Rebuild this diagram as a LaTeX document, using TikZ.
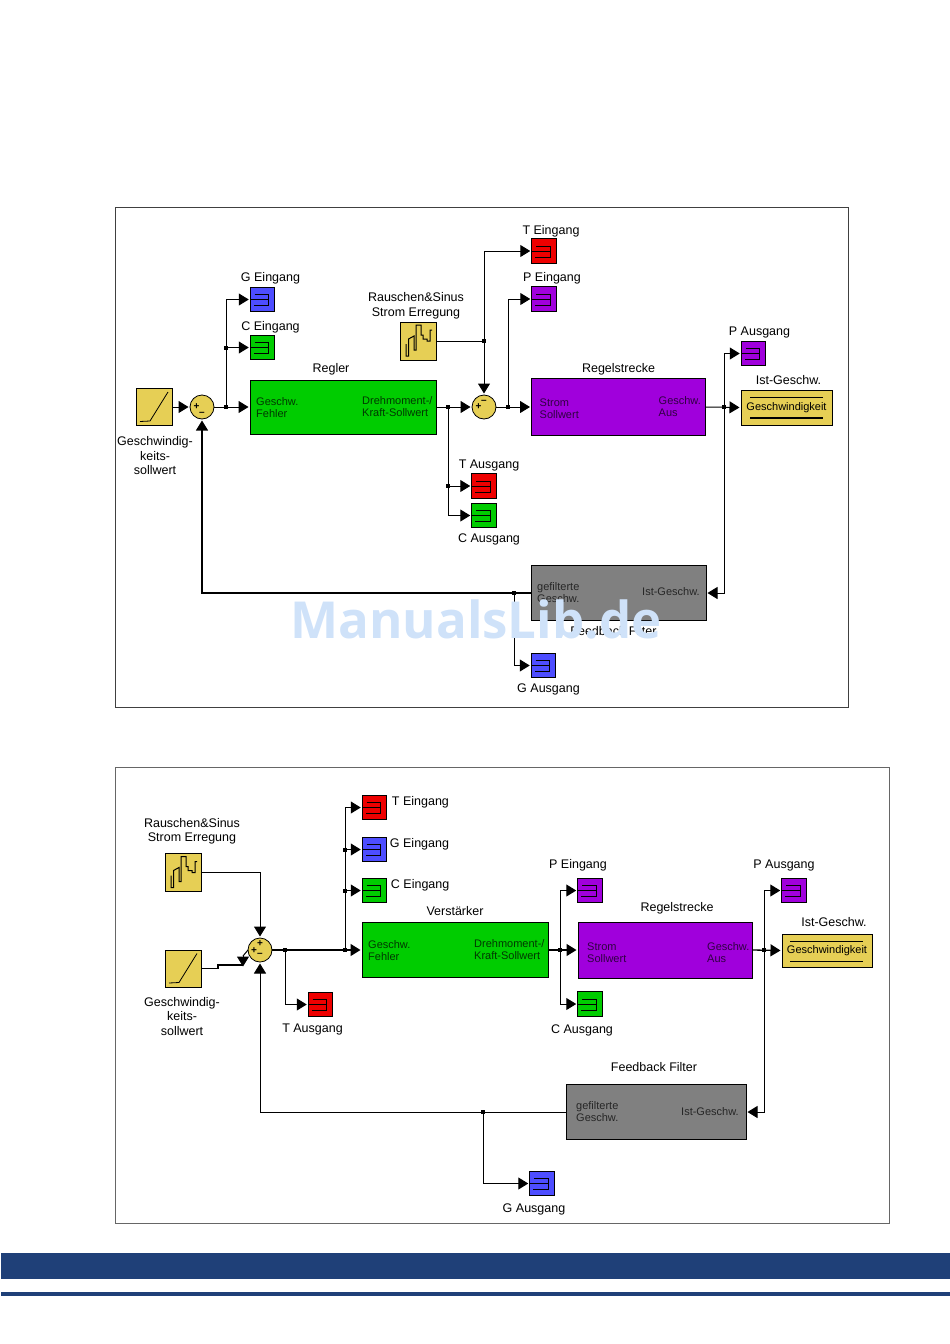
\documentclass[tikz,border=0pt]{standalone}
\usepackage{fontspec}
\setmainfont{Liberation Sans}
\newfontfamily\markfont{Open Sans}
\usetikzlibrary{arrows.meta,positioning,calc}
\definecolor{blkred}{HTML}{EE0000}
\definecolor{blkblue}{HTML}{4D4DFF}
\definecolor{blkgreen}{HTML}{00CC00}
\definecolor{blkpurple}{HTML}{A000DC}
\definecolor{blkgrey}{HTML}{808080}
\definecolor{blkyellow}{HTML}{E6CF55}
\definecolor{barnavy}{HTML}{1F4078}
\definecolor{markblue}{HTML}{CFE2F9}
\tikzset{
  % Blocks with text inside
  ctrlbox/.style={draw, rectangle, line width=1pt, inner sep=0pt, outer sep=0pt},
  % Small output port: box with bracket symbol
  portbox/.style={ctrlbox, minimum size=24.5pt, line width=1pt, fill=#1,
    path picture={\draw[line width=1pt, shift={(path picture bounding box.center)}]
      (-8,-5) -- (6,-5) -- (6,6) -- (-9,6) (-12,0) -- (6,0);}},
  % Source blocks: ramp and noise signal
  rampbox/.style={ctrlbox, fill=blkyellow, minimum width=36pt, minimum height=37pt,
    path picture={\draw[line width=0.8pt, shift={(path picture bounding box.center)}]
      (-14,14.5) -- (-4,14) -- (14,-15);}},
  noisebox/.style={ctrlbox, fill=blkyellow, minimum width=36pt, minimum height=38pt,
    path picture={\draw[line width=1pt, shift={(path picture bounding box.center)}]
      (-12,3) -- (-12,15) -- (-9.5,15) -- (-9.5,-2) -- (-4,-5) -- (-4,9) -- (-2,9)
      -- (-2,-16) -- (3,-16) -- (3,-6) -- (5,-6) -- (5,-2) -- (9,-2) -- (9,0)
      -- (12,0) -- (12,-11) -- (14,-11);}},
  % Display block with bars above and below the text
  dispbox/.style={ctrlbox, fill=blkyellow, minimum width=91pt, minimum height=35pt,
    font=\fontsize{11}{12}\selectfont},
  dispbar/.style={line width=0.9pt},
  dispbar-thick/.style={line width=1.4pt},
  sumnode/.style={draw, circle, fill=blkyellow, minimum size=24pt, inner sep=0pt,
    outer sep=0pt, line width=0.8pt},
  signtxt/.style={font=\fontsize{10}{10}\selectfont\bfseries, inner sep=0pt},
  juncdot/.style={fill=black, rectangle, minimum size=4pt, inner sep=0pt},
  % Texts
  caplabel/.style={font=\fontsize{12.5}{14.5}\selectfont, align=center, inner sep=0pt},
  intext/.style={font=\fontsize{11}{12}\selectfont, align=left, inner sep=0pt, anchor=west},
  % Connectors
  sigline/.style={line width=1pt},
  sigarr/.style={sigline, -{Triangle[length=10pt,width=12pt]}, shorten >=1.5pt}
}
\begin{document}
\begin{tikzpicture}[x=1pt,y=-1pt]
\useasboundingbox (0,0) rectangle (950,1344);

% ============== Frames and footer bars ==============
\draw[line width=0.8pt, black!75] (115.5,207) rectangle (848,707.5);
\draw[line width=0.9pt, black!60] (115.5,767.5) rectangle (889.5,1223.5);
\fill[barnavy] (1,1253) rectangle (950,1279);
\fill[barnavy] (1,1292) rectangle (950,1296);

% ============== Top diagram: blocks ==============
\node[rampbox] (rampA) at (154,407) {};
\node[sumnode] (sumA) at (202,407) {};
\node[ctrlbox, fill=blkgreen, minimum width=186pt, minimum height=54pt] (regler) at (343,407) {};
\node[portbox=blkblue] (portGi) at (262.5,299.5) {};
\node[portbox=blkgreen] (portCi) at (262.5,347.5) {};
\node[noisebox] (noiseA) at (418,341) {};
\node[sumnode] (sumB) at (484,407) {};
\node[portbox=blkred] (portTi) at (544,251) {};
\node[portbox=blkpurple] (portPi) at (544,299) {};
\node[ctrlbox, fill=blkpurple, minimum width=174pt, minimum height=57pt] (plantA) at (618.5,407) {};
\node[portbox=blkpurple] (portPo) at (753.5,353.5) {};
\node[dispbox] (dispA) at (786.5,407.5) {Geschwindigkeit};
\node[portbox=blkred] (portTo) at (484,486) {};
\node[portbox=blkgreen] (portCo) at (484,515.5) {};
\node[ctrlbox, fill=blkgrey, minimum width=175pt, minimum height=55pt] (filtA) at (618.5,593) {};
\node[portbox=blkblue] (portGo) at (543.5,665.5) {};

% Display bars
\draw[dispbar] ($(dispA.north west)+(9,7)$) -- ($(dispA.north east)+(-9,7)$);
\draw[dispbar-thick] ($(dispA.south west)+(9,-7)$) -- ($(dispA.south east)+(-9,-7)$);

% Sum signs
\node[signtxt] (sumAp) at ($(sumA)+(-5.5,0)$) {+};
\node[signtxt] (sumAm) at ($(sumA)+(0,6.5)$) {--};
\node[signtxt] (sumBp) at ($(sumB)+(-5.5,0)$) {+};
\node[signtxt] (sumBm) at ($(sumB)+(0,-5.5)$) {--};

% Block inner texts
\node[intext, text=green!22!black] (reglerIn) at ($(regler.west)+(6,1)$) {Geschw.\\Fehler};
\node[intext, text=green!22!black] (reglerOut) at ($(regler.west)+(112,0)$) {Drehmoment-/\\Kraft-Sollwert};
\node[intext, text=blkpurple!30!black] (plantAin) at ($(plantA.west)+(8,2)$) {Strom\\Sollwert};
\node[intext, text=blkpurple!30!black] (plantAout) at ($(plantA.west)+(127,0)$) {Geschw.\\Aus};
\node[intext, text=black!85] (filtAout) at ($(filtA.west)+(6,0)$) {gefilterte\\Geschw.};
\node[intext, text=black!85] (filtAin) at ($(filtA.west)+(111,-1)$) {Ist-Geschw.};

% Captions
\node[caplabel, below=11pt of rampA, xshift=1pt] (capRampA) {Geschwindig-\\keits-\\sollwert};
\node[caplabel, above=3pt of portGi, xshift=8pt] (capGi) {G Eingang};
\node[caplabel, above=2pt of portCi, xshift=8pt] (capCi) {C Eingang};
\node[caplabel, above=5pt of regler, xshift=-12pt] (capRegler) {Regler};
\node[caplabel, above=3pt of noiseA, xshift=-2pt] (capNoiseA) {Rauschen\&Sinus\\Strom Erregung};
\node[caplabel, above=1pt of portTi, xshift=7pt] (capTi) {T Eingang};
\node[caplabel, above=2pt of portPi, xshift=8pt] (capPi) {P Eingang};
\node[caplabel, above=3pt of portPo, xshift=6pt] (capPo) {P Ausgang};
\node[caplabel, above=3pt of plantA] (capPlantA) {Regelstrecke};
\node[caplabel, above=5pt of dispA, xshift=2pt] (capDispA) {Ist-Geschw.};
\node[caplabel, above=2pt of portTo, xshift=5pt] (capTo) {T Ausgang};
\node[caplabel, below=6pt of portCo, xshift=5pt] (capCo) {C Ausgang};
\node[caplabel, below=6pt of filtA, xshift=-5pt] (capFiltA) {Feedback Filter};
\node[caplabel, below=6pt of portGo, xshift=5pt] (capGo) {G Ausgang};

% Junctions
\node[juncdot] (jA) at (226,407) {};
\node[juncdot] (jB) at (226,347.5) {};
\node[juncdot] (jC) at (448,407) {};
\node[juncdot] (jD) at (448,486) {};
\node[juncdot] (jE) at (484,341) {};
\node[juncdot] (jF) at (508,407) {};
\node[juncdot] (jG) at (724,407) {};
\node[juncdot] (jH) at (514,593) {};

% Connectors
\draw[sigarr] (rampA.east) -- (sumA.west);
\draw[sigarr] (sumA.east) -- (regler.west);
\draw[sigarr] (jA.center) |- (portGi.west);
\draw[sigarr] (jB.center) -- (portCi.west);
\draw[sigarr] (regler.east) -- (sumB.west);
\draw[sigline] (noiseA.east) -- (jE.center);
\draw[sigarr] (jE.center) -- (sumB.north);
\draw[sigarr] (jE.center) |- (portTi.west);
\draw[sigarr] (sumB.east) -- (plantA.west);
\draw[sigarr] (jF.center) |- (portPi.west);
\draw[sigarr] (plantA.east) -- (dispA.west);
\draw[sigarr] (jG.center) |- (portPo.west);
\draw[sigarr] (jG.center) |- (filtA.east);
\draw[sigarr] (jC.center) |- (portCo.west);
\draw[sigarr] (jD.center) -- (portTo.west);
\draw[sigarr, line width=1.2pt] (filtA.west) -| (sumA.south);
\draw[sigarr] (jH.center) |- (portGo.west);

% ============== Bottom diagram: blocks ==============
\node[noisebox] (noiseB) at (183,872.5) {};
\node[rampbox] (rampB) at (183,968.5) {};
\node[sumnode] (sumC) at (260,950) {};
\node[ctrlbox, fill=blkgreen, minimum width=186pt, minimum height=55pt] (amp) at (455,950) {};
\node[portbox=blkred] (portTb) at (374.5,807.5) {};
\node[portbox=blkblue] (portGb) at (374.5,849.5) {};
\node[portbox=blkgreen] (portCb) at (374.5,890.5) {};
\node[portbox=blkred] (portTc) at (320.5,1004.5) {};
\node[ctrlbox, fill=blkpurple, minimum width=174pt, minimum height=56pt] (plantB) at (665,950) {};
\node[portbox=blkpurple] (portPb) at (590,890.5) {};
\node[portbox=blkgreen] (portCc) at (590,1004) {};
\node[portbox=blkpurple] (portPc) at (794,890.5) {};
\node[dispbox, minimum width=90pt, minimum height=33pt] (dispB) at (827,950.5) {Geschwindigkeit};
\node[ctrlbox, fill=blkgrey, minimum width=180pt, minimum height=55pt] (filtB) at (656,1112) {};
\node[portbox=blkblue] (portGc) at (542,1183.5) {};

% Display bars
\draw[dispbar] ($(dispB.north west)+(8,7)$) -- ($(dispB.north east)+(-9,7)$);
\draw[dispbar] ($(dispB.south west)+(8,-6)$) -- ($(dispB.south east)+(-9,-6)$);

% Sum signs
\node[signtxt] (sumCa) at ($(sumC)+(0,-6)$) {+};
\node[signtxt] (sumCb) at ($(sumC)+(-6,1)$) {+};
\node[signtxt] (sumCm) at ($(sumC)+(0,5)$) {--};

% Block inner texts
\node[intext, text=green!22!black] (ampIn) at ($(amp.west)+(6,1)$) {Geschw.\\Fehler};
\node[intext, text=green!22!black] (ampOut) at ($(amp.west)+(112,0)$) {Drehmoment-/\\Kraft-Sollwert};
\node[intext, text=blkpurple!30!black] (plantBin) at ($(plantB.west)+(9,3)$) {Strom\\Sollwert};
\node[intext, text=blkpurple!30!black] (plantBout) at ($(plantB.west)+(129,3)$) {Geschw.\\Aus};
\node[intext, text=black!85] (filtBout) at ($(filtB.west)+(10,0)$) {gefilterte\\Geschw.};
\node[intext, text=black!85] (filtBin) at ($(filtB.west)+(115,0)$) {Ist-Geschw.};

% Captions
\node[caplabel, above=9pt of noiseB, xshift=9pt] (capNoiseB) {Rauschen\&Sinus\\Strom Erregung};
\node[caplabel, below=10pt of rampB, xshift=-1pt] (capRampB) {Geschwindig-\\keits-\\sollwert};
\node[caplabel, right=5pt of portTb, yshift=5pt] (capTb) {T Eingang};
\node[caplabel, right=3pt of portGb, yshift=5pt] (capGb) {G Eingang};
\node[caplabel, right=4pt of portCb, yshift=5pt] (capCb) {C Eingang};
\node[caplabel, below=7pt of portTc, xshift=-8pt] (capTc) {T Ausgang};
\node[caplabel, above=7pt of amp] (capAmp) {Verstärker};
\node[caplabel, above=7pt of portPb, xshift=-12pt] (capPb) {P Eingang};
\node[caplabel, above=8pt of plantB, xshift=12pt] (capPlantB) {Regelstrecke};
\node[caplabel, above=7pt of portPc, xshift=-10pt] (capPc) {P Ausgang};
\node[caplabel, above=7pt of dispB, xshift=7pt] (capDispB) {Ist-Geschw.};
\node[caplabel, below=8pt of portCc, xshift=-8pt] (capCc) {C Ausgang};
\node[caplabel, above=13pt of filtB, xshift=-2pt] (capFiltB) {Feedback Filter};
\node[caplabel, below=8pt of portGc, xshift=-8pt] (capGc) {G Ausgang};

% Junctions
\node[juncdot] (jK) at (285,950) {};
\node[juncdot] (jL) at (345,950) {};
\node[juncdot] (jM) at (345,849.5) {};
\node[juncdot] (jN) at (345,890.5) {};
\node[juncdot] (jP) at (560,950) {};
\node[juncdot] (jQ) at (764,950) {};
\node[juncdot] (jR) at (483,1112) {};
\coordinate (rampTop) at (243,956);
\coordinate (rampEnd) at (243,966.5);

% Connectors
\draw[sigarr] (noiseB.east) -| (sumC.north);
\draw[sigline, line width=1.4pt] (rampB.east) -- ++(17,0) |- (rampTop |- 0,965);
\draw[sigarr, shorten >=0pt] (rampTop) -- (rampEnd);
\draw[sigline] (rampTop) -- (sumC.west);
\draw[sigarr, line width=1.5pt] (sumC.east) -- (amp.west);
\draw[sigarr] (jL.center) |- (portTb.west);
\draw[sigarr] (jM.center) -- (portGb.west);
\draw[sigarr] (jN.center) -- (portCb.west);
\draw[sigarr] (jK.center) |- (portTc.west);
\draw[sigarr, line width=1.3pt] (amp.east) -- (plantB.west);
\draw[sigarr] (jP.center) |- (portPb.west);
\draw[sigarr] (jP.center) |- (portCc.west);
\draw[sigarr, line width=1.3pt] (plantB.east) -- (dispB.west);
\draw[sigarr] (jQ.center) |- (portPc.west);
\draw[sigarr] (jQ.center) |- (filtB.east);
\draw[sigarr] (filtB.west) -| (sumC.south);
\draw[sigarr] (jR.center) |- (portGc.west);

% ============== Watermark ==============
\node[font=\markfont\fontsize{51}{51}\selectfont\bfseries, text=markblue, inner sep=0pt] (wmark) at (476,619) {ManualsLib.de};

\end{tikzpicture}
\end{document}
